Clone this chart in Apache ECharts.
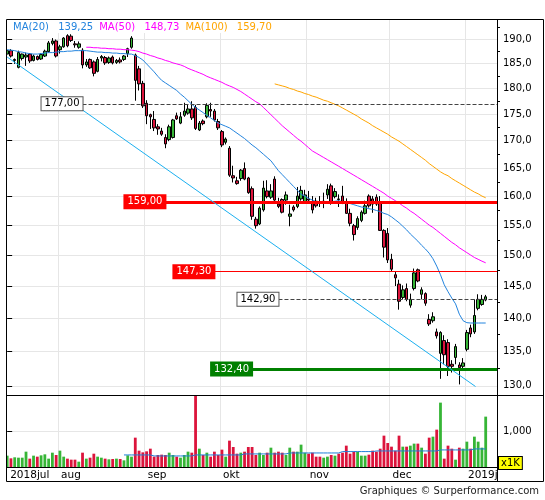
<!DOCTYPE html>
<html><head><meta charset="utf-8">
<script src="https://cdn.jsdelivr.net/npm/echarts@6/dist/echarts.min.js"></script>
<style>html,body{margin:0;padding:0;background:#fff}#c{width:545px;height:500px}</style>
</head><body><div id="c"></div>
<script>
// ---------------- data ----------------
const dates = [
'2018-07-12','2018-07-13','2018-07-16','2018-07-17','2018-07-18','2018-07-19','2018-07-20','2018-07-23','2018-07-24','2018-07-25','2018-07-26','2018-07-27','2018-07-30','2018-07-31',
'2018-08-01','2018-08-02','2018-08-03','2018-08-06','2018-08-07','2018-08-08','2018-08-09','2018-08-10','2018-08-13','2018-08-14','2018-08-15','2018-08-16','2018-08-17','2018-08-20','2018-08-21','2018-08-22','2018-08-23','2018-08-24','2018-08-27','2018-08-28','2018-08-29','2018-08-30','2018-08-31',
'2018-09-03','2018-09-04','2018-09-05','2018-09-06','2018-09-07','2018-09-10','2018-09-11','2018-09-12','2018-09-13','2018-09-14','2018-09-17','2018-09-18','2018-09-19','2018-09-20','2018-09-21','2018-09-24','2018-09-25','2018-09-26','2018-09-27','2018-09-28',
'2018-10-01','2018-10-02','2018-10-03','2018-10-04','2018-10-05','2018-10-08','2018-10-09','2018-10-10','2018-10-11','2018-10-12','2018-10-15','2018-10-16','2018-10-17','2018-10-18','2018-10-19','2018-10-22','2018-10-23','2018-10-24','2018-10-25','2018-10-26','2018-10-29','2018-10-30','2018-10-31',
'2018-11-01','2018-11-02','2018-11-05','2018-11-06','2018-11-07','2018-11-08','2018-11-09','2018-11-12','2018-11-13','2018-11-14','2018-11-15','2018-11-16','2018-11-19','2018-11-20','2018-11-21','2018-11-22','2018-11-23','2018-11-26','2018-11-27','2018-11-28','2018-11-29','2018-11-30',
'2018-12-03','2018-12-04','2018-12-05','2018-12-06','2018-12-07','2018-12-10','2018-12-11','2018-12-12','2018-12-13','2018-12-14','2018-12-17','2018-12-18','2018-12-19','2018-12-20','2018-12-21','2018-12-24','2018-12-26','2018-12-27','2018-12-28','2018-12-31',
'2019-01-02','2019-01-03','2019-01-04','2019-01-07','2019-01-08','2019-01-09','2019-01-10','2019-01-11','2019-01-14'
];
const monthLabels = ['2018jul','aug','sep','okt','nov','dec','2019j'];

const opens = [
186.9,187.6,185.6,184.2,186.0,186.3,186.9,185.6,186.4,185.9,186.5,187.4,189.1,189.6,
187.8,188.4,190.7,190.6,189.0,188.3,187.7,184.7,185.8,185.3,183.4,186.1,186.2,185.2,186.3,185.2,185.7,185.8,187.0,188.3,186.7,183.9,181.0,
177.1,174.9,174.0,172.6,171.8,170.6,170.2,170.6,174.7,173.3,174.8,175.2,176.0,176.3,172.0,173.7,174.5,175.9,175.6,173.6,
171.7,169.7,168.6,163.6,162.7,163.1,164.9,163.2,161.3,156.0,155.2,157.6,160.9,159.8,163.0,158.6,159.4,159.3,156.5,158.1,158.2,159.5,159.0,
159.5,158.8,159.1,159.0,158.9,160.2,161.8,159.9,159.5,160.0,159.0,157.0,154.9,154.6,155.8,157.0,160.0,159.5,159.8,158.9,154.1,153.6,
149.3,146.8,145.3,143.2,144.6,142.0,144.6,147.6,143.7,143.8,139.8,139.6,137.9,134.7,136.6,136.3,133.1,134.1,133.0,132.8,
135.3,138.5,137.9,141.5,142.1,142.8
];
const closes = [
187.6,186.5,185.8,187.2,186.9,186.7,185.5,186.5,185.8,186.8,187.5,189.2,189.6,186.5,
188.4,190.2,188.6,189.7,188.8,189.0,184.7,185.3,184.1,183.0,185.8,186.4,185.1,186.1,185.1,185.6,185.3,186.5,188.0,190.2,181.6,180.9,176.6,
174.7,174.5,172.4,172.2,171.2,169.4,172.6,173.9,174.1,174.5,175.6,176.0,174.3,172.3,173.3,173.2,176.7,175.6,173.9,172.4,
169.2,170.3,163.7,163.2,162.2,164.6,163.0,160.6,156.5,154.9,157.9,161.4,159.9,160.9,159.3,158.2,157.2,160.2,156.9,157.6,160.0,161.0,160.2,
159.3,157.6,158.3,158.8,159.1,161.2,158.8,160.8,159.4,158.8,157.0,155.3,153.4,156.1,157.2,158.3,158.3,158.6,158.6,154.1,151.3,149.2,
147.7,146.3,142.6,144.4,142.9,142.9,147.1,145.8,144.4,142.3,139.1,140.2,137.3,137.8,134.5,132.8,132.8,135.7,132.6,133.3,
137.8,137.6,140.4,142.9,142.9,143.3
];
const lows = [
186.5,186.2,184.9,184.0,185.6,184.5,185.1,185.4,185.6,185.7,186.3,187.2,188.7,186.2,
187.0,188.2,188.3,189.4,188.2,188.0,184.0,184.3,183.9,182.4,183.2,185.4,184.7,184.9,184.8,184.9,185.0,185.5,186.3,188.0,177.6,179.6,176.2,
173.1,172.2,171.8,171.1,170.9,168.6,169.9,170.4,173.9,173.1,174.5,174.9,173.9,172.0,171.8,172.9,174.2,174.5,173.6,172.0,
168.8,169.3,163.4,162.4,162.0,162.7,162.8,160.4,155.9,154.4,155.0,157.3,159.6,159.5,159.0,157.9,157.0,158.5,154.8,157.3,157.9,159.2,158.7,
158.9,157.0,158.0,158.1,157.9,159.5,158.5,159.6,158.1,158.6,156.9,154.8,152.4,154.2,155.5,156.8,158.0,157.1,158.3,154.0,149.6,148.7,
147.4,145.0,141.3,142.9,142.6,141.6,144.3,145.6,142.9,141.9,138.8,139.3,136.9,131.0,133.1,131.4,131.9,133.1,130.2,132.5,
135.0,137.1,137.6,141.2,141.9,142.6
];
const highs = [
187.8,187.9,186.0,187.6,187.0,187.2,187.1,186.8,186.6,187.1,187.8,189.6,190.2,189.9,
188.8,190.4,191.0,191.0,189.6,189.5,188.1,185.9,186.0,185.6,186.3,186.7,186.5,186.4,186.6,185.9,186.2,186.7,188.2,190.6,187.0,184.5,181.5,
177.7,175.1,175.6,173.1,172.4,171.2,173.0,174.1,175.3,175.4,177.2,176.9,177.5,176.8,173.7,174.0,177.1,177.2,176.0,174.1,
172.0,170.6,169.0,165.4,163.4,164.8,166.0,163.4,161.7,156.4,158.2,162.7,162.8,162.1,163.5,159.7,159.6,160.8,158.5,158.4,161.6,161.8,161.1,
160.9,160.0,159.7,160.0,160.6,162.1,162.2,161.4,160.3,161.8,159.6,157.8,155.2,156.5,157.5,159.2,160.3,160.0,160.3,160.0,154.3,154.5,
150.2,147.4,146.0,145.1,145.4,143.8,147.8,147.8,144.8,144.0,140.6,140.9,138.4,138.0,137.4,136.8,133.7,136.1,133.4,134.0,
138.2,139.0,142.9,143.7,143.6,143.6
];
// volume in thousands
const volumes = [
315,241,269,259,259,426,232,315,287,324,352,232,398,333,
454,287,232,204,204,148,398,232,259,370,287,259,232,213,222,232,222,185,324,287,815,454,407,
435,509,287,333,343,333,398,333,287,259,333,426,398,2100,509,333,398,287,426,333,
482,287,732,556,370,398,426,556,556,333,398,333,398,537,398,426,398,333,537,426,426,621,398,
370,398,287,287,259,287,333,315,370,398,593,370,426,426,315,315,343,454,426,509,871,667,
565,454,871,565,565,593,649,649,537,370,815,843,1038,1788,232,593,509,204,537,509,
704,509,843,704,537,1399
];
const volumeAvg = [
'-','-','-','-','-','-','-','-','-','-','-','-','-','-','-','-','-','-','-','-','-','-','-','-','-','-','-','-','-','-','-',
335,335,335,335,335,335,335,
307,307,307,307,307,307,307,307,307,307,307,
335,335,335,335,335,335,335,335,335,335,335,335,335,
363,363,363,363,363,363,363,363,363,363,363,363,
390,390,390,390,390,390,390,390,390,390,390,390,390,390,
428,428,428,428,428,428,428,428,428,
446,446,446,446,446,446,446,446,446,446,446,446,446,446,446,446,446,
474,474,474,474,474,474,474,474,474,
502,502,502,502,502
];
const ma20 = [
187.8,187.7,187.6,187.4,187.3,187.1,187.0,186.9,186.9,187.0,187.1,187.2,187.2,187.3,187.4,187.4,187.5,187.5,187.6,187.6,
187.6,187.6,187.5,187.4,187.3,187.3,187.2,187.2,187.1,187.1,187.0,187.0,186.9,186.9,186.6,186.2,185.7,184.9,184.1,183.3,
182.4,181.6,181.1,180.6,180.1,179.6,178.9,178.3,177.6,176.9,176.3,175.8,175.3,174.8,174.3,173.8,173.3,173.0,172.7,172.4,
171.9,171.4,170.9,170.4,169.8,169.2,168.7,168.1,167.5,166.9,166.3,165.4,164.5,163.8,163.1,162.4,161.7,161.0,160.3,160.0,
159.6,159.3,159.0,158.9,158.8,158.9,159.0,159.1,159.2,159.0,158.8,158.7,158.5,158.3,158.1,158.0,157.8,157.7,157.5,157.3,
157.0,156.8,156.4,155.9,155.4,154.8,154.2,153.5,152.9,152.3,151.6,151.0,150.3,149.4,148.2,146.8,145.2,144.1,143.1,142.2,
140.6,139.6,139.3,139.25,139.25,139.25,139.25,139.25
];
const ma50 = [
'-','-','-','-','-','-','-','-','-','-','-','-','-','-','-','-','-','-','-','-','-',
188.3,188.3,188.2,188.2,188.1,188.1,188.0,188.0,187.9,187.9,187.8,187.8,187.7,187.6,187.4,187.1,186.9,186.6,186.4,
186.1,185.9,185.6,185.4,185.1,184.9,184.7,184.4,184.0,183.7,183.4,183.1,182.8,182.4,182.1,181.8,181.5,181.2,180.8,180.5,
180.2,179.8,179.4,178.9,178.4,177.9,177.4,177.0,176.3,175.6,174.9,174.2,173.5,172.8,172.2,171.6,171.0,170.4,169.9,169.3,
168.7,168.1,167.7,167.3,166.9,166.5,166.1,165.7,165.3,164.9,164.5,164.1,163.7,163.3,162.9,162.5,162.1,161.7,161.3,160.9,
160.5,160.0,159.6,159.2,158.8,158.3,157.9,157.4,157.0,156.5,156.0,155.5,155.0,154.6,154.1,153.6,153.1,152.6,152.1,151.7,
151.2,150.8,150.4,150.0,149.6,149.3,149.0,148.73
];
const ma100 = [
'-','-','-','-','-','-','-','-','-','-','-','-','-','-','-','-','-','-','-','-',
'-','-','-','-','-','-','-','-','-','-','-','-','-','-','-','-','-','-','-','-',
'-','-','-','-','-','-','-','-','-','-','-','-','-','-','-','-','-','-','-','-',
'-','-','-','-','-','-','-','-','-','-','-',
180.9,180.7,180.5,180.3,180.0,179.8,179.5,179.3,179.0,
178.8,178.5,178.3,178.0,177.7,177.5,177.2,176.9,176.6,176.2,175.8,175.4,175.0,174.6,174.1,173.7,173.3,172.8,172.4,172.0,
171.6,171.2,170.7,170.3,169.9,169.4,168.9,168.4,167.9,167.4,166.9,166.4,165.8,165.3,164.8,164.3,163.9,163.6,163.1,162.7,
162.3,161.9,161.5,161.1,160.7,160.4,160.0,159.7
];
const legendItems = [
  {name:'MA(20)', value:'139,25'},
  {name:'MA(50)', value:'148,73'},
  {name:'MA(100)', value:'159,70'}
];
const levels = [177.00, 159.00, 147.30, 142.90, 132.40];
const trendFrom = [0, 186.3];
const trendTo = [124.3, 129.9];
const yTicks = [130,135,140,145,150,155,160,165,170,175,180,185,190];
const yMinorTicks = [132.5,137.5,142.5,147.5,152.5,157.5,162.5,167.5,172.5,177.5,182.5,187.5,192.5];
const volTicks = [1000];

// ---------------- styling / layout ----------------
const FONT = 'DejaVu Sans';
const UP = '#36b536', DOWN = '#dc143c';
const GRID = '#e6e6e6';
const maColors = ['#2384de', '#ff00ff', '#ffa500'];
const levelStyle = [
  {start:20, type:'dashed', color:'#444', width:1, bg:'#fff', border:'#555', text:'#000'},
  {start:42, type:'solid', color:'#ff0000', width:3, bg:'#ff0000', border:'#ff0000', text:'#fff'},
  {start:55, type:'solid', color:'#ff0000', width:1, bg:'#ff0000', border:'#ff0000', text:'#fff'},
  {start:72, type:'dashed', color:'#444', width:1, bg:'#fff', border:'#555', text:'#000'},
  {start:65, type:'solid', color:'#008000', width:3, bg:'#008000', border:'#008000', text:'#fff'}
];
const N = dates.length;
const LAST = N - 1;
const fmt2 = v => v.toFixed(2).replace('.', ',');
const fmt1 = v => v.toFixed(1).replace('.', ',');

const candleData = opens.map((o, i) => [o, closes[i], lows[i], highs[i]]);
const volData = volumes.map((v, i) => ({value: v, itemStyle: {color: closes[i] >= opens[i] ? UP : DOWN}}));

// month boundaries
const bounds = [];
for (let i = 1; i < N; i++) if (dates[i].slice(0, 7) !== dates[i - 1].slice(0, 7)) bounds.push(i - 0.5);
const labelPos = [0].concat(bounds);
const labelFor = v => { const k = labelPos.findIndex(p => Math.abs(p - v) < 1e-6); return k >= 0 ? monthLabels[k] : ''; };

const levelLines = levels.map((lv, k) => {
  const s = levelStyle[k];
  return [{
    coord: [s.start, lv],
    lineStyle: {type: s.type, color: s.color, width: s.width},
    label: {show: true, position: 'start', distance: 0, formatter: fmt2(lv), color: s.text,
      backgroundColor: s.bg, borderColor: s.border, borderWidth: 1, padding: [2, 3, 1, 3],
      fontSize: 10, fontFamily: FONT}
  }, {coord: [LAST, lv]}];
});
levelLines.push([{coord: trendFrom, lineStyle: {type: 'solid', color: '#1cb0f0', width: 1}, label: {show: false}}, {coord: trendTo}]);

const legendGraphics = [];
let lx = 13;
legendItems.forEach((it, k) => {
  const nameW = it.name.length * 6.2;
  legendGraphics.push({type: 'text', x: lx, y: 27, z: 110, style: {text: it.name, fill: maColors[k], font: '10px ' + FONT, textVerticalAlign: 'middle'}});
  legendGraphics.push({type: 'text', x: lx + nameW + 8, y: 27, z: 110, style: {text: it.value, fill: maColors[k], font: '10px ' + FONT, textVerticalAlign: 'middle'}});
  lx += nameW + 8 + 41;
});

const chart = echarts.init(document.getElementById('c'), null, {renderer: 'canvas'});
const yMin = 128.7, yMax = 194.0;
chart.setOption({
  animation: false,
  backgroundColor: '#fff',
  grid: [
    {left: 7.17, top: 20, width: 489.83, height: 375},
    {left: 7.17, top: 395, width: 489.83, height: 72}
  ],
  xAxis: [
    {type: 'category', gridIndex: 0, data: dates, boundaryGap: false, show: false},
    {type: 'value', gridIndex: 0, min: 0, max: LAST, axisLine: {show: false}, axisTick: {show: false, customValues: bounds},
      axisLabel: {show: false}, splitLine: {show: true, lineStyle: {color: GRID}}},
    {type: 'category', gridIndex: 1, data: dates, boundaryGap: false, show: false},
    {type: 'value', gridIndex: 1, min: 0, max: LAST, position: 'bottom', axisLine: {show: false},
      axisTick: {show: false, customValues: bounds},
      axisLabel: {show: true, customValues: labelPos, formatter: labelFor, align: 'left', padding: [0, 0, 0, 3],
        margin: 3, fontSize: 10.5, fontFamily: FONT, color: '#000'},
      splitLine: {show: true, lineStyle: {color: GRID}}}
  ],
  yAxis: [
    {type: 'log', gridIndex: 0, position: 'right', min: yMin, max: yMax, axisLine: {show: false},
      axisTick: {show: true, customValues: yTicks, length: 5, lineStyle: {color: '#000'}},
      axisLabel: {customValues: yTicks, formatter: v => fmt1(v), fontSize: 10, fontFamily: FONT, color: '#000', margin: 6},
      splitLine: {show: true, lineStyle: {color: GRID}}},
    {type: 'log', gridIndex: 0, position: 'right', min: yMin, max: yMax, axisLine: {show: false},
      axisTick: {show: true, customValues: yMinorTicks, length: 3, lineStyle: {color: '#000'}},
      axisLabel: {show: false}, splitLine: {show: false}},
    {type: 'value', gridIndex: 1, position: 'right', min: 0, max: 2000, axisLine: {show: false},
      axisTick: {show: true, customValues: volTicks, length: 5, lineStyle: {color: '#000'}},
      axisLabel: {customValues: volTicks, fontSize: 10, fontFamily: FONT, color: '#000', margin: 6},
      splitLine: {show: true, lineStyle: {color: GRID}}}
  ],
  series: [
    {type: 'line', xAxisIndex: 1, yAxisIndex: 0, data: [], silent: true,
      markLine: {silent: true, symbol: ['none', 'none'], animation: false, data: levelLines}},
    {type: 'line', name: 'MA(100)', xAxisIndex: 0, yAxisIndex: 0, data: ma100, showSymbol: false, symbol: 'none',
      lineStyle: {color: maColors[2], width: 1}},
    {type: 'line', name: 'MA(50)', xAxisIndex: 0, yAxisIndex: 0, data: ma50, showSymbol: false, symbol: 'none',
      lineStyle: {color: maColors[1], width: 1}},
    {type: 'line', name: 'MA(20)', xAxisIndex: 0, yAxisIndex: 0, data: ma20, showSymbol: false, symbol: 'none',
      lineStyle: {color: maColors[0], width: 1}},
    {type: 'candlestick', xAxisIndex: 0, yAxisIndex: 0, data: candleData, barWidth: 3,
      itemStyle: {color: UP, color0: DOWN, borderColor: '#000', borderColor0: '#000', borderWidth: 1}},
    {type: 'bar', xAxisIndex: 2, yAxisIndex: 2, data: volData, barWidth: 2.8},
    {type: 'line', xAxisIndex: 2, yAxisIndex: 2, data: volumeAvg, showSymbol: false, symbol: 'none', step: 'end',
      lineStyle: {color: '#1e7fd8', width: 1}}
  ],
  graphic: [
    {type: 'rect', z: 100, shape: {x: 0, y: 0, width: 6.5, height: 500}, style: {fill: '#fff'}},
    {type: 'rect', z: 100, shape: {x: 7, y: 20, width: 262, height: 13}, style: {fill: '#fff'}},
    {type: 'rect', z: 101, shape: {x: 6.5, y: 19.5, width: 537, height: 462}, style: {fill: null, stroke: '#000', lineWidth: 1}},
    {type: 'line', z: 101, shape: {x1: 6.5, y1: 395.5, x2: 543.5, y2: 395.5}, style: {stroke: '#000', lineWidth: 1}},
    {type: 'line', z: 101, shape: {x1: 6.5, y1: 467.5, x2: 497.5, y2: 467.5}, style: {stroke: '#000', lineWidth: 1}},
    {type: 'line', z: 101, shape: {x1: 497.5, y1: 19.5, x2: 497.5, y2: 481.5}, style: {stroke: '#000', lineWidth: 1}},
    {type: 'text', z: 110, x: 499, y: 463, style: {text: 'x1K', fill: '#000', font: '10px ' + FONT, textVerticalAlign: 'middle',
      backgroundColor: '#ffff00', borderColor: '#000', borderWidth: 1, padding: [1, 2]}},
    {type: 'text', z: 110, x: 539, y: 491, style: {text: 'Graphiques © Surperformance.com', fill: '#222', font: '10px ' + FONT,
      textAlign: 'right', textVerticalAlign: 'middle'}}
  ].concat(legendGraphics)
});
</script></body></html>
